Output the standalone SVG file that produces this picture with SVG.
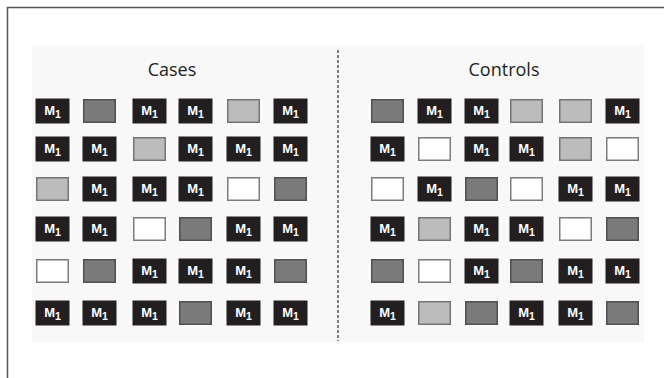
<svg xmlns="http://www.w3.org/2000/svg" width="664" height="378" viewBox="0 0 664 378">
<style>
.m{fill:#231f20;stroke:#231f20;stroke-width:1}
.d{fill:#7a7a7a;stroke:#505050;stroke-width:1.5}
.l{fill:#bcbcbc;stroke:#747474;stroke-width:1.5}
.w{fill:#ffffff;stroke:#7c7c7c;stroke-width:1.5}
.t{font-family:"Liberation Sans",Arial,sans-serif;font-weight:bold;font-size:13px;fill:#ffffff;text-anchor:middle}
.s{font-size:10.5px}
.h{font-family:"Open Sans","Liberation Sans",sans-serif;font-size:18px;fill:#231f20;text-anchor:middle}
</style>
<defs>
<g id="M"><rect class="m" x="0" y="0" width="33" height="24"/><text class="t" x="16.5" y="16.2">M<tspan class="s" dy="2.5">1</tspan></text></g>
<rect id="D" class="d" x="0.75" y="0.75" width="31.5" height="22.5"/>
<rect id="L" class="l" x="0.75" y="0.75" width="31.5" height="22.5"/>
<rect id="W" class="w" x="0.75" y="0.75" width="31.5" height="22.5"/>
</defs>
<rect x="0" y="0" width="664" height="378" fill="#ffffff"/>
<path d="M7.5 378 V7.5 H664" fill="none" stroke="#555555" stroke-width="1.5"/>
<rect x="32" y="45" width="612" height="297" fill="#f8f8f8"/>
<g id="connectors">
<line x1="338" y1="50" x2="338" y2="341" stroke="#555555" stroke-width="1.5" stroke-dasharray="3,2"/>
</g>
<g id="cases">
<text class="h" x="172" y="76">Cases</text>
<use href="#M" x="36" y="99"/><use href="#D" x="83" y="99"/><use href="#M" x="133" y="99"/><use href="#M" x="179" y="99"/><use href="#L" x="227" y="99"/><use href="#M" x="274" y="99"/>
<use href="#M" x="36" y="137"/><use href="#M" x="83" y="137"/><use href="#L" x="133" y="137"/><use href="#M" x="179" y="137"/><use href="#M" x="227" y="137"/><use href="#M" x="274" y="137"/>
<use href="#L" x="36" y="177"/><use href="#M" x="83" y="177"/><use href="#M" x="133" y="177"/><use href="#M" x="179" y="177"/><use href="#W" x="227" y="177"/><use href="#D" x="274" y="177"/>
<use href="#M" x="36" y="217"/><use href="#M" x="83" y="217"/><use href="#W" x="133" y="217"/><use href="#D" x="179" y="217"/><use href="#M" x="227" y="217"/><use href="#M" x="274" y="217"/>
<use href="#W" x="36" y="259"/><use href="#D" x="83" y="259"/><use href="#M" x="133" y="259"/><use href="#M" x="179" y="259"/><use href="#M" x="227" y="259"/><use href="#D" x="274" y="259"/>
<use href="#M" x="36" y="301"/><use href="#M" x="83" y="301"/><use href="#M" x="133" y="301"/><use href="#D" x="179" y="301"/><use href="#M" x="227" y="301"/><use href="#M" x="274" y="301"/>
</g>
<g id="controls">
<text class="h" x="504" y="76">Controls</text>
<use href="#D" x="371" y="99"/><use href="#M" x="418" y="99"/><use href="#M" x="465" y="99"/><use href="#L" x="510" y="99"/><use href="#L" x="559" y="99"/><use href="#M" x="606" y="99"/>
<use href="#M" x="371" y="137"/><use href="#W" x="418" y="137"/><use href="#M" x="465" y="137"/><use href="#M" x="510" y="137"/><use href="#L" x="559" y="137"/><use href="#W" x="606" y="137"/>
<use href="#W" x="371" y="177"/><use href="#M" x="418" y="177"/><use href="#D" x="465" y="177"/><use href="#W" x="510" y="177"/><use href="#M" x="559" y="177"/><use href="#M" x="606" y="177"/>
<use href="#M" x="371" y="217"/><use href="#L" x="418" y="217"/><use href="#M" x="465" y="217"/><use href="#M" x="510" y="217"/><use href="#W" x="559" y="217"/><use href="#D" x="606" y="217"/>
<use href="#D" x="371" y="259"/><use href="#W" x="418" y="259"/><use href="#M" x="465" y="259"/><use href="#D" x="510" y="259"/><use href="#M" x="559" y="259"/><use href="#M" x="606" y="259"/>
<use href="#M" x="371" y="301"/><use href="#L" x="418" y="301"/><use href="#D" x="465" y="301"/><use href="#M" x="510" y="301"/><use href="#M" x="559" y="301"/><use href="#D" x="606" y="301"/>
</g>
</svg>
